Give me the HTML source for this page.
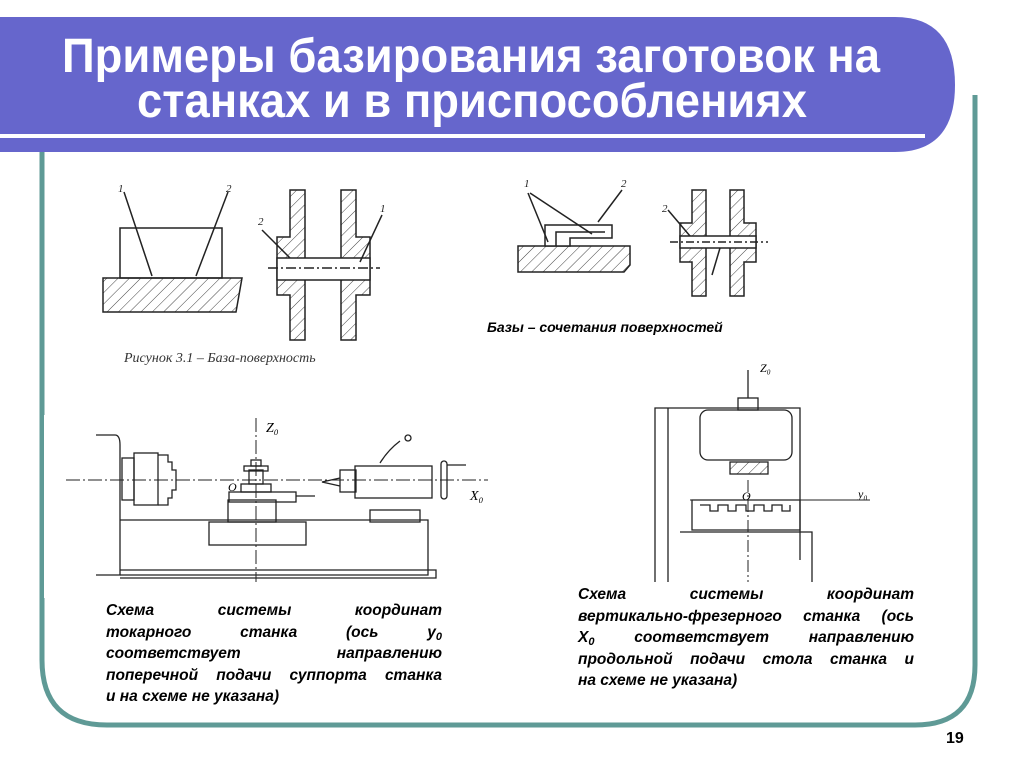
<!DOCTYPE html>
<html><head><meta charset="utf-8"><style>
body{margin:0;width:1024px;height:768px;background:#fff;overflow:hidden;font-family:"Liberation Sans",sans-serif}
svg{position:absolute;left:0;top:0}
.t{position:absolute;color:#000;font-style:italic;font-weight:bold;font-size:15.5px;line-height:21.5px}
.t div{text-align:justify;text-align-last:justify;height:21.5px;white-space:nowrap}
.t div.l{text-align-last:left}
.s{font-size:11px;position:relative;top:3px}
</style></head><body>
<svg width="1024" height="768" viewBox="0 0 1024 768">
<defs><pattern id="h" width="8" height="8" patternUnits="userSpaceOnUse" patternTransform="rotate(45)"><line x1="0" y1="0" x2="0" y2="8" stroke="#444" stroke-width="1"/></pattern></defs>
<path d="M42 150 V660 Q42 725 107 725 H915 Q975 725 975 665 V95" fill="none" stroke="#5f9a96" stroke-width="5"/>
<path d="M0 17 H895 Q955 17 955 85 Q955 152 895 152 H0 Z" fill="#6666cc"/>
<rect x="0" y="134" width="925" height="4" fill="#fff"/>
<text x="62" y="72" font-size="48" font-weight="bold" fill="#fff" textLength="818" lengthAdjust="spacingAndGlyphs" font-family="Liberation Sans">Примеры базирования заготовок на</text>
<text x="137" y="117" font-size="48" font-weight="bold" fill="#fff" textLength="670" lengthAdjust="spacingAndGlyphs" font-family="Liberation Sans">станках и в приспособлениях</text>
<g stroke="#222" stroke-width="1.5" fill="none">
<rect x="120" y="228" width="102" height="50"/>
<path d="M103 278 H242 L236 312 H103 Z" fill="url(#h)"/>
<line x1="124" y1="192" x2="152" y2="276"/><line x1="228" y1="192" x2="196" y2="276"/>
<path d="M290 190 V237 H277 V295 H290 V340 H305 V190 Z M356 190 V237 H370 V295 H356 V340 H341 V190 Z" fill="url(#h)"/>
<rect x="277" y="258" width="93" height="22" fill="#fff"/>
<line x1="268" y1="268" x2="380" y2="268" stroke-dasharray="10 3 2 3"/>
<line x1="262" y1="230" x2="290" y2="258"/><line x1="382" y1="215" x2="360" y2="262"/>
<path d="M518 246 H630 V265 L624 272 H518 Z" fill="url(#h)"/>
<path d="M545 246 V225 H612 V238 H570 V246 Z" fill="#fff"/>
<path d="M556 246 V232 H605" />
<line x1="528" y1="193" x2="548" y2="242"/><line x1="530" y1="193" x2="592" y2="234"/><line x1="622" y1="190" x2="598" y2="222"/>
<path d="M692 190 V223 H680 V262 H692 V296 H706 V190 Z M744 190 V223 H756 V262 H744 V296 H730 V190 Z" fill="url(#h)"/>
<rect x="680" y="236" width="76" height="12" fill="#fff"/>
<line x1="670" y1="242" x2="768" y2="242" stroke-dasharray="8 3 2 3"/>
<line x1="668" y1="210" x2="690" y2="236"/><line x1="712" y1="275" x2="720" y2="248"/>
</g>
<g font-family="Liberation Serif" font-style="italic" font-size="11" fill="#222">
<text x="118" y="192">1</text><text x="226" y="192">2</text><text x="258" y="225">2</text><text x="380" y="212">1</text>
<text x="524" y="187">1</text><text x="621" y="187">2</text><text x="662" y="212">2</text>
</g>
<text x="124" y="362" font-family="Liberation Serif" font-style="italic" font-size="14" fill="#333">Рисунок 3.1 – База-поверхность</text>
<text x="487" y="332" font-family="Liberation Sans" font-style="italic" font-weight="bold" font-size="14">Базы – сочетания поверхностей</text>
<rect x="44" y="415" width="450" height="183" fill="#fff"/>
<g stroke="#222" stroke-width="1.3" fill="none">
<path d="M96 435 H115 Q120 435 120 445 V575 H96"/>
<path d="M120 520 H428 V575 H120"/><path d="M120 570 H436 V578 H120"/>
<rect x="209" y="522" width="97" height="23"/>
<rect x="122" y="458" width="12" height="42"/><rect x="134" y="453" width="24" height="52"/><path d="M158 455 H168 V462 H172 V470 H176 V490 H172 V498 H168 V505 H158"/>
<rect x="228" y="500" width="48" height="22"/><rect x="229" y="492" width="67" height="10"/>
<rect x="241" y="484" width="30" height="8"/><rect x="249" y="470" width="14" height="14"/><rect x="244" y="466" width="24" height="5"/><rect x="251" y="460" width="10" height="6"/>
<path d="M296 496 L315 496"/>
<rect x="370" y="510" width="50" height="12" /><rect x="355" y="466" width="77" height="32"/><rect x="340" y="470" width="16" height="22"/>
<path d="M340 478 L322 482 L340 486"/>
<path d="M380 463 Q388 450 400 441"/><circle cx="408" cy="438" r="3"/>
<rect x="441" y="461" width="6" height="38" rx="3"/><path d="M447 465 H466"/>
</g>
<line x1="66" y1="480" x2="488" y2="480" stroke="#222" stroke-dasharray="14 3 2 3"/>
<line x1="256" y1="418" x2="256" y2="582" stroke="#222" stroke-dasharray="14 3 2 3"/>
<text x="266" y="432" font-family="Liberation Serif" font-style="italic" font-size="14">Z₀</text>
<text x="470" y="500" font-family="Liberation Serif" font-style="italic" font-size="14">X₀</text>
<text x="228" y="491" font-family="Liberation Serif" font-style="italic" font-size="12">O</text>
<g stroke="#222" stroke-width="1.3" fill="none">
<path d="M655 600 V408 H800 V560"/><path d="M668 408 V600"/>
<rect x="700" y="410" width="92" height="50" rx="8"/>
<rect x="738" y="398" width="20" height="12"/><line x1="748" y1="370" x2="748" y2="398"/>
<rect x="730" y="462" width="38" height="12" fill="url(#h)"/>
<path d="M692 500 H800 V530 H692 Z"/>
<path d="M700 505 h10 v6 h8 v-6 h10 v6 h8 v-6 h10 v6 h8 v-6 h10 v6 h8 v-6 h10 v6 h8 v-6" />
<path d="M680 532 H812 V600"/>
</g>
<text x="760" y="372" font-family="Liberation Serif" font-style="italic" font-size="12">Z₀</text>
<text x="858" y="498" font-family="Liberation Serif" font-style="italic" font-size="12">y₀</text>
<text x="742" y="500" font-family="Liberation Serif" font-style="italic" font-size="12">O</text>
<line x1="748" y1="480" x2="748" y2="598" stroke="#222" stroke-dasharray="12 3 2 3"/>
<line x1="690" y1="500" x2="870" y2="500" stroke="#222"/>
<rect x="566" y="582" width="356" height="118" fill="#fff"/>
<text x="946" y="743" font-family="Liberation Sans" font-weight="bold" font-size="16">19</text>
</svg>
<div class="t" style="left:106px;top:600px;width:336px">
<div>Схема системы координат</div>
<div>токарного станка (ось y<span class="s">0</span></div>
<div>соответствует направлению</div>
<div>поперечной подачи суппорта станка</div>
<div class="l">и на схеме не указана)</div>
</div>
<div class="t" style="left:578px;top:584px;width:336px">
<div>Схема системы координат</div>
<div>вертикально-фрезерного станка (ось</div>
<div>X<span class="s">0</span> соответствует направлению</div>
<div>продольной подачи стола станка и</div>
<div class="l">на схеме не указана)</div>
</div>
</body></html>
